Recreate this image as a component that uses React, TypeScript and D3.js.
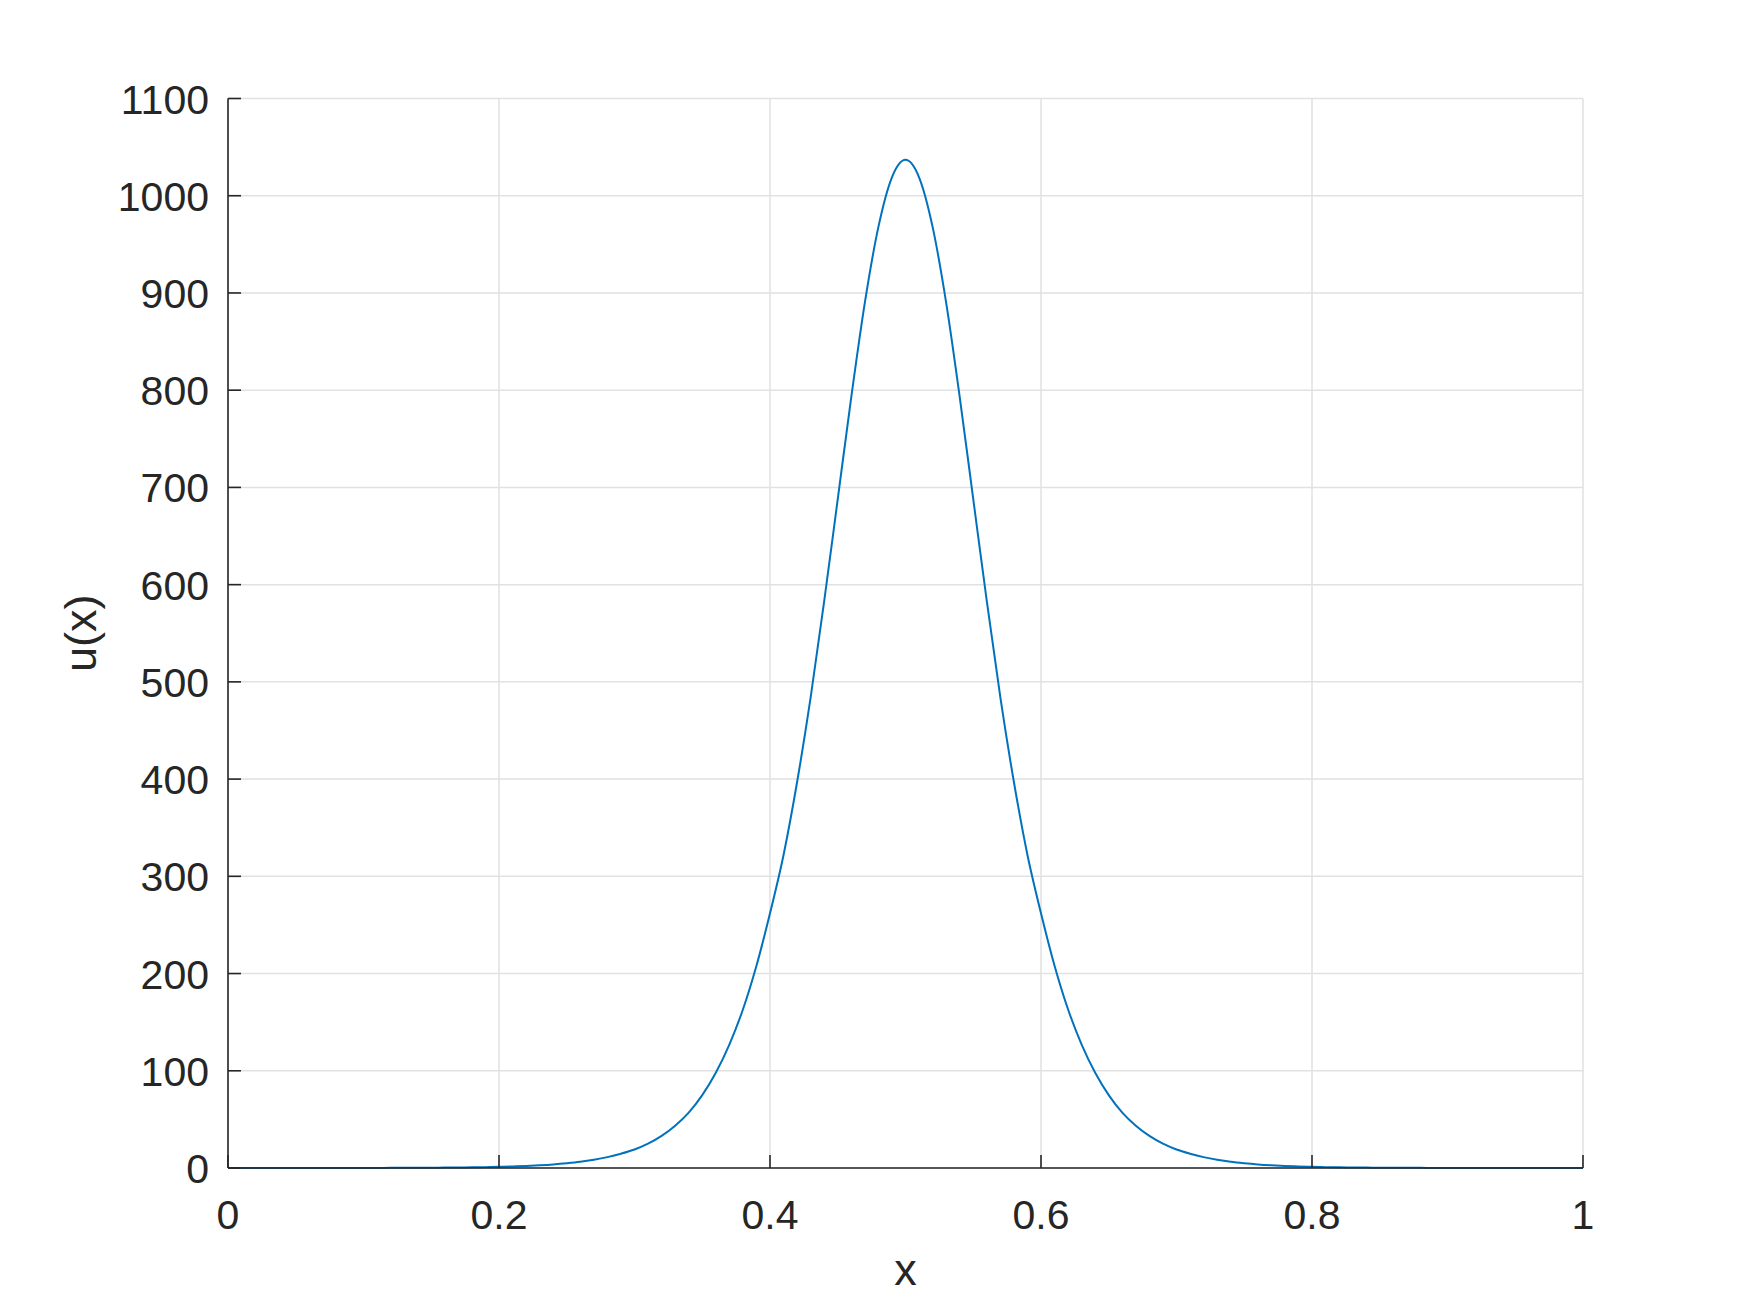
import React from "react";
import * as d3 from "d3";

const xSamples = [
  0.0, 0.01, 0.02, 0.03, 0.04, 0.05, 0.06, 0.07, 0.08, 0.09,
  0.1, 0.11, 0.12, 0.13, 0.14, 0.15, 0.16, 0.17, 0.18, 0.19,
  0.2, 0.21, 0.22, 0.23, 0.24, 0.25, 0.26, 0.27, 0.28, 0.29,
  0.3, 0.31, 0.32, 0.33, 0.34, 0.35, 0.36, 0.37, 0.38, 0.39,
  0.4, 0.41, 0.42, 0.43, 0.44, 0.45, 0.46, 0.47, 0.48, 0.49,
  0.5, 0.51, 0.52, 0.53, 0.54, 0.55, 0.56, 0.57, 0.58, 0.59,
  0.6, 0.61, 0.62, 0.63, 0.64, 0.65, 0.66, 0.67, 0.68, 0.69,
  0.7, 0.71, 0.72, 0.73, 0.74, 0.75, 0.76, 0.77, 0.78, 0.79,
  0.8, 0.81, 0.82, 0.83, 0.84, 0.85, 0.86, 0.87, 0.88, 0.89,
  0.9, 0.91, 0.92, 0.93, 0.94, 0.95, 0.96, 0.97, 0.98, 0.99, 1.0,
];

const uValues = [
  0.01, 0.01, 0.01, 0.02, 0.02, 0.02, 0.03, 0.03, 0.04, 0.05,
  0.07, 0.1, 0.13, 0.17, 0.22, 0.3, 0.4, 0.5, 0.7, 0.9,
  1.2, 1.6, 2.1, 2.8, 3.7, 4.9, 6.4, 8.5, 11.2, 14.7,
  19, 25, 33, 43.5, 57, 75, 98, 127, 163, 208,
  262, 322, 397, 484, 583, 688, 793, 890, 968, 1019,
  1037, 1019, 968, 890, 793, 688, 583, 484, 397, 322,
  262, 208, 163, 127, 98, 75, 57, 43.5, 33, 25,
  19, 14.7, 11.2, 8.5, 6.4, 4.9, 3.7, 2.8, 2.1, 1.6,
  1.2, 0.9, 0.7, 0.5, 0.4, 0.3, 0.22, 0.17, 0.13, 0.1,
  0.07, 0.05, 0.04, 0.03, 0.03, 0.02, 0.02, 0.02, 0.01, 0.01, 0.01,
];

const xTicks = [0, 0.2, 0.4, 0.6, 0.8, 1];
const xTickLabels = ["0", "0.2", "0.4", "0.6", "0.8", "1"];
const yTicks = [0, 100, 200, 300, 400, 500, 600, 700, 800, 900, 1000, 1100];
const yTickLabels = ["0", "100", "200", "300", "400", "500", "600", "700", "800", "900", "1000", "1100"];

const xLabel = "x";
const yLabel = "u(x)";

export default function App() {
  const W = 1750;
  const H = 1313;
  const left = 228;
  const right = 1583;
  const top = 98.5;
  const bottom = 1168;

  const x = d3.scaleLinear().domain([0, 1]).range([left, right]);
  const y = d3.scaleLinear().domain([0, 1100]).range([bottom, top]);

  const pts: [number, number][] = xSamples.map((xv, i) => [xv, uValues[i]]);
  const line = d3
    .line<[number, number]>()
    .x((d) => x(d[0]))
    .y((d) => y(d[1]))
    .curve(d3.curveMonotoneX);

  const font = "'Liberation Sans', Arial, Helvetica, sans-serif";
  const axisColor = "#262626";
  const gridColor = "#e1e1e1";
  const tickLen = 13;

  return (
    <svg
      width={W}
      height={H}
      style={{ position: "absolute", left: 0, top: 0, background: "#fff" }}
      fontFamily={font}
    >
      <rect x={0} y={0} width={W} height={H} fill="#fff" />
      {xTicks.map((t) => (
        <line key={"gx" + t} x1={x(t)} x2={x(t)} y1={y(0)} y2={y(1100)} stroke={gridColor} strokeWidth={1.5} />
      ))}
      {yTicks.map((t) => (
        <line key={"gy" + t} x1={x(0)} x2={x(1)} y1={y(t)} y2={y(t)} stroke={gridColor} strokeWidth={1.5} />
      ))}
      <path d={line(pts) || ""} fill="none" stroke="#0072BD" strokeWidth={2} />
      <line x1={x(0)} x2={x(1)} y1={bottom} y2={bottom} stroke={axisColor} strokeWidth={1.6} />
      <line x1={left} x2={left} y1={y(0)} y2={y(1100)} stroke={axisColor} strokeWidth={1.6} />
      {xTicks.map((t) => (
        <line key={"tx" + t} x1={x(t)} x2={x(t)} y1={bottom} y2={bottom - tickLen} stroke={axisColor} strokeWidth={1.6} />
      ))}
      {yTicks.map((t) => (
        <line key={"ty" + t} x1={left} x2={left + tickLen} y1={y(t)} y2={y(t)} stroke={axisColor} strokeWidth={1.6} />
      ))}
      {xTicks.map((t, i) => (
        <text key={"lx" + t} x={x(t)} y={1229} textAnchor="middle" fontSize={41} fill={axisColor}>
          {xTickLabels[i]}
        </text>
      ))}
      {yTicks.map((t, i) => (
        <text key={"ly" + t} x={209} y={y(t) + 15} textAnchor="end" fontSize={41} fill={axisColor}>
          {yTickLabels[i]}
        </text>
      ))}
      <text x={x(0.5)} y={1285} textAnchor="middle" fontSize={45} fill={axisColor}>
        {xLabel}
      </text>
      <text
        transform={`translate(96, ${(top + bottom) / 2}) rotate(-90)`}
        textAnchor="middle"
        fontSize={45}
        fill={axisColor}
      >
        {yLabel}
      </text>
    </svg>
  );
}
